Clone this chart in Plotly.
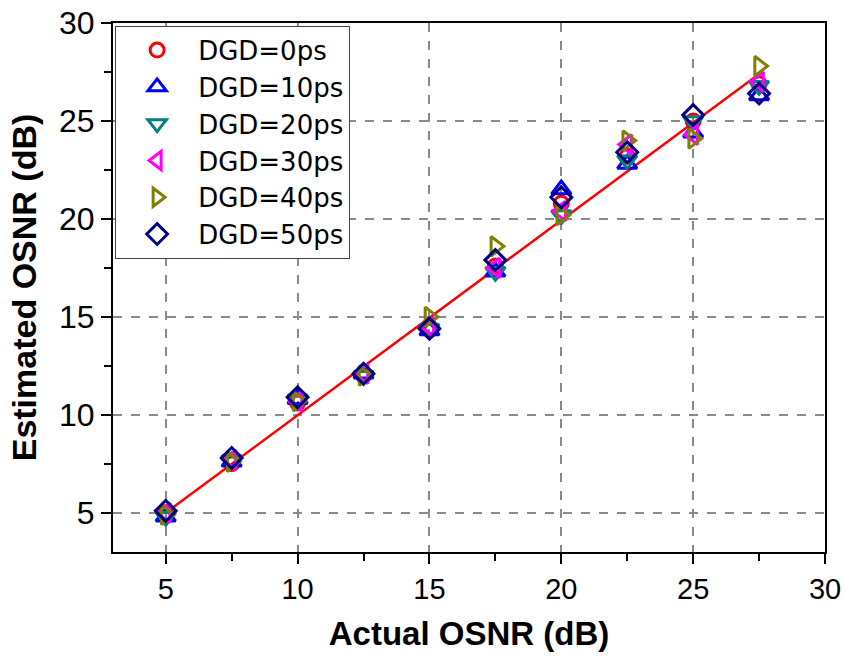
import plotly.graph_objects as go

# Actual OSNR set points (dB)
actual_osnr = [5, 7.5, 10, 12.5, 15, 17.5, 20, 22.5, 25, 27.5]

# Estimated OSNR (dB) for each DGD value
est_dgd0 = [5.0, 7.5, 10.6, 12.0, 14.5, 17.6, 20.8, 23.2, 25.0, 26.9]
est_dgd10 = [4.8, 7.6, 10.8, 12.1, 14.3, 17.3, 21.5, 22.8, 24.4, 26.3]
est_dgd20 = [4.8, 7.7, 10.8, 12.0, 14.4, 17.3, 20.2, 23.0, 25.0, 26.8]
est_dgd30 = [5.0, 7.7, 10.7, 12.1, 14.5, 17.5, 20.4, 23.8, 24.3, 27.0]
est_dgd40 = [4.9, 7.6, 10.7, 12.0, 15.0, 18.6, 20.2, 24.0, 24.1, 27.8]
est_dgd50 = [5.1, 7.8, 10.9, 12.1, 14.4, 17.9, 21.1, 23.4, 25.3, 26.4]

# Linear fit line end points
fit_x = [5, 27.5]
fit_y = [5.0, 27.4]

series = [
    ("DGD=0ps", est_dgd0, "circle-open", "#ff0000", 14),
    ("DGD=10ps", est_dgd10, "triangle-up-open", "#0000ff", 17),
    ("DGD=20ps", est_dgd20, "triangle-down-open", "#008080", 17),
    ("DGD=30ps", est_dgd30, "triangle-left-open", "#ff00ff", 17),
    ("DGD=40ps", est_dgd40, "triangle-right-open", "#808000", 17),
    ("DGD=50ps", est_dgd50, "diamond-open", "#000080", 16),
]

FONT = "Liberation Sans, Arial"

fig = go.Figure()

fig.add_trace(go.Scatter(
    x=fit_x, y=fit_y, mode="lines",
    line=dict(color="#ff0000", width=2.5),
    showlegend=False, hoverinfo="skip",
))

for name, values, symbol, color, size in series:
    fig.add_trace(go.Scatter(
        x=actual_osnr, y=values, mode="markers", name=name,
        marker=dict(symbol=symbol, size=size, color=color,
                    line=dict(color=color, width=3)),
    ))

axis_common = dict(
    range=[3, 30],
    dtick=5,
    tick0=5,
    automargin=False,
    showline=True,
    linecolor="black",
    linewidth=2,
    mirror=True,
    ticks="outside",
    ticklen=10,
    tickwidth=2,
    tickcolor="black",
    showgrid=True,
    gridcolor="#8a8a8a",
    gridwidth=1.5,
    griddash="dash",
    zeroline=False,
    minor=dict(ticks="outside", ticklen=7, tickwidth=2, tickcolor="black",
               dtick=2.5, showgrid=False),
)

fig.update_xaxes(
    **axis_common,
    tickfont=dict(family=FONT, size=29, color="black"),
    title=dict(text="<b>Actual OSNR (dB)</b>", standoff=18,
               font=dict(family=FONT, size=33, color="black")),
)
fig.update_yaxes(
    **axis_common,
    tickfont=dict(family=FONT, size=32, color="black"),
    title=dict(text="<b>Estimated OSNR (dB)</b>", standoff=12,
               font=dict(family=FONT, size=34, color="black")),
)

fig.update_layout(
    width=848,
    height=661,
    margin=dict(l=113, r=23, t=23, b=109),
    paper_bgcolor="white",
    plot_bgcolor="white",
    font=dict(family=FONT, color="black"),
    legend=dict(
        x=0.003, y=0.995, xanchor="left", yanchor="top",
        bgcolor="white", bordercolor="#444", borderwidth=1,
        font=dict(family="DejaVu Sans, Liberation Sans", size=26, color="black"),
        itemwidth=72,
        tracegroupgap=0,
    ),
)

fig.write_html("out.html")
